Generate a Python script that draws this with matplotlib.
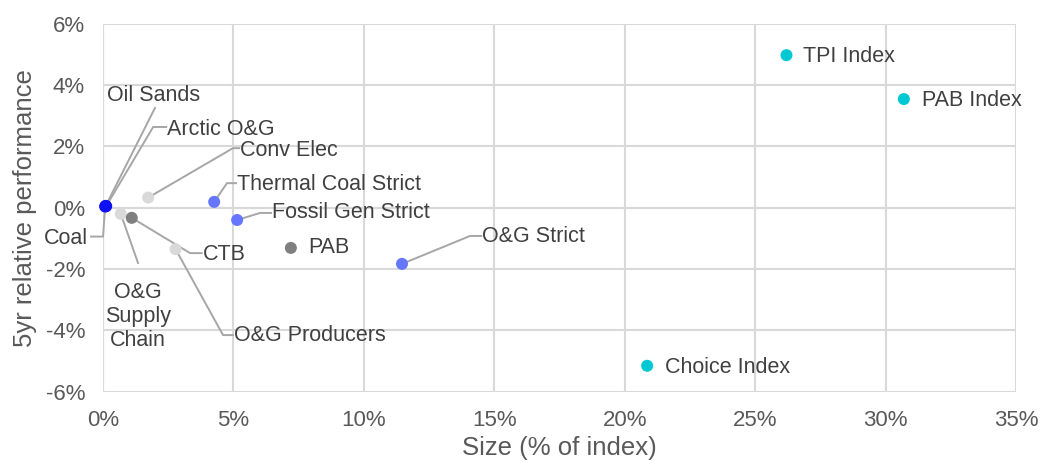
import matplotlib.pyplot as plt
from matplotlib.ticker import FuncFormatter

plt.rcParams['font.family'] = ['Liberation Sans', 'DejaVu Sans']

# Series: size in index (%) vs 5yr relative performance (%)
names = ["Oil Sands", "Arctic O&G", "Coal", "Conv Elec", "O&G Supply Chain", "CTB",
         "O&G Producers", "Thermal Coal Strict", "Fossil Gen Strict", "PAB",
         "O&G Strict", "Choice Index", "TPI Index", "PAB Index"]
size_pct = [0.10, 0.12, 0.08, 1.73, 0.68, 1.10, 2.78, 4.26, 5.14, 7.20, 11.46, 20.86, 26.2, 30.7]
perf_pct = [0.06, 0.05, 0.04, 0.33, -0.20, -0.33, -1.35, 0.19, -0.40, -1.31, -1.83, -5.15, 4.97, 3.54]
colours = ["#1010f5", "#1010f5", "#1010f5", "#d9d9d9", "#d9d9d9", "#7f7f7f",
           "#d9d9d9", "#6677ff", "#6677ff", "#7f7f7f", "#6677ff", "#00c8d2",
           "#00c8d2", "#00c8d2"]

# label placement: text anchor (x, y), horizontal alignment, leader elbow (or None)
label_pos = {
    "Oil Sands": ((1.92, 3.64), "center", [(1.99, 3.25)]),
    "Arctic O&G": ((2.45, 2.56), "left", [(1.92, 2.63), (2.42, 2.63)]),
    "Coal": ((-0.58, -1.0), "right", [(0.0, -0.94), (-0.46, -0.94)]),
    "Conv Elec": ((5.25, 1.85), "left", [(4.98, 1.94), (5.22, 1.94)]),
    "O&G Supply Chain": ((1.34, -3.55), "center", [(1.34, -1.8)]),
    "CTB": ((3.83, -1.54), "left", [(3.34, -1.48), (3.78, -1.48)]),
    "O&G Producers": ((5.02, -4.15), "left", [(4.6, -4.15), (4.98, -4.15)]),
    "Thermal Coal Strict": ((5.14, 0.77), "left", [(4.75, 0.80), (5.10, 0.80)]),
    "Fossil Gen Strict": ((6.48, -0.17), "left", [(6.02, -0.17), (6.44, -0.17)]),
    "PAB": ((7.85, -1.31), "left", None),
    "O&G Strict": ((14.53, -0.95), "left", [(14.07, -0.92), (14.50, -0.92)]),
    "Choice Index": ((21.55, -5.2), "left", None),
    "TPI Index": ((26.85, 4.93), "left", None),
    "PAB Index": ((31.4, 3.48), "left", None),
}
multiline = {"O&G Supply Chain": "O&G\nSupply\nChain"}

fig = plt.figure(figsize=(10.41, 4.71), dpi=100)
ax = fig.add_axes([0.099, 0.168, 0.877, 0.782])

ax.set_xlim(0, 35)
ax.set_ylim(-6, 6)
ax.set_xticks(range(0, 36, 5))
ax.set_yticks(range(-6, 7, 2))
ax.xaxis.set_major_formatter(FuncFormatter(lambda v, p: f"{v:.0f}%"))
ax.yaxis.set_major_formatter(FuncFormatter(lambda v, p: f"{v:.0f}%"))
ax.grid(True, color="#d9d9d9", linewidth=1.5, zorder=0)
ax.axhline(0, color="#c8c8c8", linewidth=1.5, zorder=1)
for s in ax.spines.values():
    s.set_visible(False)
ax.axvline(0, color="#d0d0d0", linewidth=1.5, zorder=1)
ax.tick_params(length=0, labelsize=16, labelcolor="#595959")
ax.tick_params(axis="y", pad=13)
ax.tick_params(axis="x", pad=13)

# leader lines first so the dots sit on top
for n, x, y in zip(names, size_pct, perf_pct):
    (tx, ty), ha, elbow = label_pos[n]
    if elbow:
        xs = [x] + [p[0] for p in elbow]
        ys = [y] + [p[1] for p in elbow]
        ax.plot(xs, ys, color="#a6a6a6", linewidth=1.4, zorder=2, clip_on=False)

ax.scatter(size_pct, perf_pct, s=75, c=colours, zorder=3, linewidths=0, clip_on=False)

for n in names:
    (tx, ty), ha, elbow = label_pos[n]
    ax.text(tx, ty, multiline.get(n, n), ha=ha, va="center", fontsize=15.5,
            color="#404040", zorder=4, linespacing=1.2, clip_on=False)

ax.set_xlabel("Size (% of index)", fontsize=18.5, color="#595959", labelpad=4)
ax.set_ylabel("5yr relative performance", fontsize=18.5, color="#595959", labelpad=6)

fig.savefig("out.png", dpi=100)
